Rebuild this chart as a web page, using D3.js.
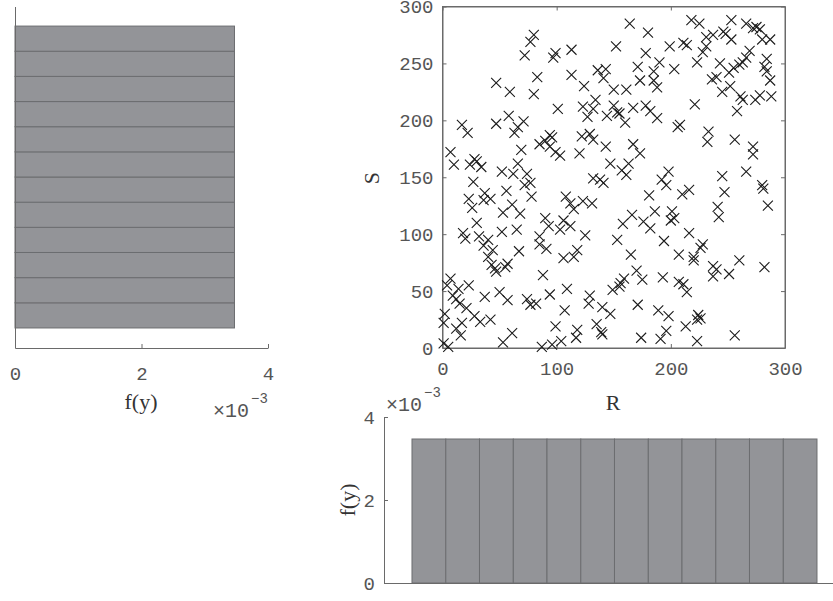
<!DOCTYPE html>
<html>
<head>
<meta charset="utf-8">
<script src="https://cdn.jsdelivr.net/npm/d3@7"></script>
<style>
body { margin: 0; background: #fff; }
svg { display: block; }
</style>
</head>
<body>
<svg id="chart" width="833" height="601"></svg>
<script>
// sample points (R, S)
const rVals = [
  80,77,72,99,97,113,47,59,83,80,113,124,136,101,134,123,132,127,47,58,71,66,63,17,22,7,10,28,30,24,34,69,66,85,90,94,96,94,99,103,120,122,129,132,
  164,180,152,178,199,211,214,218,225,231,237,246,248,253,253,266,272,275,278,280,287,231,228,223,190,171,185,203,143,141,150,161,173,185,188,243,236,240,251,255,260,263,266,269,284,282,284,287,288,245,252,261,263,274,278,258,221,150,153,155,144,167,178,182,188,160,206,208,233,232,256,272,272,143,167,173,147,163,157,198,245,266,
  27,23,26,37,36,42,56,53,61,68,72,77,78,52,62,74,30,18,20,32,40,36,44,40,43,46,47,55,57,52,65,67,90,93,85,85,91,103,106,112,108,112,115,123,131,132,138,141,125,118,115,106,88,153,7,4,14,23,9,12,15,21,37,50,57,28,33,42,2,1,17,12,16,1,5,53,61,74,77,82,94,109,107,99,104,96,87,118,117,129,128,140,147,149,135,139,140,
  161,192,196,181,210,216,247,280,281,285,241,242,166,158,176,182,186,201,200,203,216,194,165,207,220,220,226,228,237,240,237,251,260,282,170,175,193,207,211,214,159,156,155,171,189,198,224,226,223,213,196,191,174,223,256
];
const sVals = [
  275,269,257,259,255,262,233,225,238,223,240,230,244,210,218,212,210,203,197,204,199,194,189,196,189,172,161,166,164,161,159,174,162,179,182,187,185,177,172,169,171,186,188,183,
  285,277,265,259,265,268,266,288,285,273,275,278,276,288,271,285,281,282,280,271,271,265,260,251,251,247,243,245,245,237,227,227,235,235,229,250,236,238,242,246,249,251,255,261,254,247,243,235,221,225,230,221,218,218,222,208,214,213,207,206,204,211,213,208,202,198,194,196,190,181,183,177,170,177,179,171,162,162,156,155,151,155,
  146,131,123,136,130,131,138,119,126,118,143,145,133,155,153,153,110,101,96,98,95,90,86,80,73,70,67,71,74,102,104,85,114,107,98,91,87,104,112,107,133,127,122,129,127,149,148,145,99,86,80,79,64,95,61,55,52,55,46,43,39,35,45,49,42,28,23,25,30,22,22,17,11,4,1,5,13,43,38,39,47,52,33,19,6,3,1,16,9,46,39,36,30,51,21,14,12,
  152,148,143,134,135,139,137,143,140,125,124,115,117,109,111,105,120,120,112,114,101,94,82,82,80,77,88,91,72,69,63,65,77,71,68,60,62,58,56,49,61,57,54,38,33,28,29,26,25,19,15,8,9,6,11
];

// marginal histograms (pdf normalisation)
const sBinEdges = [17.6, 39.7, 61.8, 83.9, 106.0, 128.1, 150.2, 172.3, 194.4, 216.5, 238.6, 260.7, 282.8];
const sDensity = [0.00347, 0.00347, 0.00347, 0.00347, 0.00347, 0.00347, 0.00347, 0.00347, 0.00347, 0.00347, 0.00347, 0.00347];
const rBinEdges = [18.7, 41.3, 63.8, 86.4, 108.9, 131.5, 154.0, 176.6, 199.1, 221.7, 244.2, 266.8, 289.3];
const rDensity = [0.00347, 0.00347, 0.00347, 0.00347, 0.00347, 0.00347, 0.00347, 0.00347, 0.00347, 0.00347, 0.00347, 0.00347];

const densityTicks = [0, 0.002, 0.004];
const rTicks = [0, 100, 200, 300];
const sTicks = [0, 50, 100, 150, 200, 250, 300];

const monoFont = "'Liberation Mono', 'Courier New', monospace";
const serifFont = "'Liberation Serif', 'Times New Roman', serif";
const axisColor = "#6a6a6a";
const textColor = "#555";
const barFill = "#939498";
const barStroke = "#6c6d70";

const svg = d3.select("#chart");

const styleAxis = (g) => {
  g.attr("font-family", monoFont).attr("font-size", 19);
  g.selectAll("path, line").attr("stroke", axisColor);
  g.selectAll("text").attr("fill", textColor);
};

const addLabel = (x, y, rot, txt) => {
  svg.append("text")
    .attr("transform", `translate(${x},${y})` + (rot ? ` rotate(${rot})` : ""))
    .attr("text-anchor", "middle").attr("font-family", serifFont).attr("font-size", 22)
    .attr("fill", "#333").text(txt);
};

const addExponent = (x, y) => {
  let t = svg.append("text").attr("x", x).attr("y", y)
    .attr("font-family", monoFont).attr("font-size", 20).attr("fill", textColor);
  t.append("tspan").text("\u00d710");
  t.append("tspan").attr("dx", 2).attr("dy", -14).attr("font-size", 14).text("\u22123");
};

// ---------- scatter ----------
let xS = d3.scaleLinear().domain([0, 300]).range([442.5, 785]);
let yS = d3.scaleLinear().domain([0, 300]).range([348, 6.5]);

svg.append("rect")
  .attr("x", xS(0)).attr("y", yS(300))
  .attr("width", xS(300) - xS(0)).attr("height", yS(0) - yS(300))
  .attr("fill", "none").attr("stroke", axisColor);

svg.append("g").attr("transform", `translate(0,${yS(0)})`)
  .call(d3.axisBottom(xS).tickValues(rTicks).tickSize(-4).tickSizeOuter(0).tickPadding(14))
  .call(styleAxis);
svg.append("g").attr("transform", `translate(0,${yS(300)})`)
  .call(d3.axisTop(xS).tickValues(rTicks).tickSize(-4).tickSizeOuter(0).tickFormat(""))
  .call(styleAxis);
svg.append("g").attr("transform", `translate(${xS(0)},0)`)
  .call(d3.axisLeft(yS).tickValues(sTicks).tickSize(-4).tickSizeOuter(0).tickPadding(9))
  .call(styleAxis);
svg.append("g").attr("transform", `translate(${xS(300)},0)`)
  .call(d3.axisRight(yS).tickValues(sTicks).tickSize(-4).tickSizeOuter(0).tickFormat(""))
  .call(styleAxis);

let pts = rVals.map((r, i) => ({ r: r, s: sVals[i] }));
svg.append("g").selectAll("path").data(pts).join("path")
  .attr("transform", d => `translate(${xS(d.r)},${yS(d.s)})`)
  .attr("d", "M-5,-5L5,5M-5,5L5,-5")
  .attr("stroke", "#1c1c1c").attr("stroke-width", 1.1).attr("fill", "none");

addLabel(613, 410, 0, "R");
addLabel(379, 178, -90, "S");

// ---------- left histogram (S) ----------
let xL = d3.scaleLinear().domain([0, 0.004]).range([15, 268]);
let yL = d3.scaleLinear().domain([0, 300]).range([348, 6.5]);

let sBins = sDensity.map((d, i) => ({ lo: sBinEdges[i], hi: sBinEdges[i + 1], v: d }));
svg.append("g").selectAll("rect").data(sBins).join("rect")
  .attr("x", xL(0)).attr("y", d => yL(d.hi))
  .attr("width", d => xL(d.v) - xL(0)).attr("height", d => yL(d.lo) - yL(d.hi))
  .attr("fill", barFill).attr("stroke", barStroke).attr("stroke-width", 1);

svg.append("g").attr("transform", `translate(0,${yL(0)})`)
  .call(d3.axisBottom(xL).tickValues(densityTicks).tickSize(-4).tickSizeOuter(0).tickPadding(19)
    .tickFormat(d => d3.format("d")(d * 1000)))
  .call(styleAxis);
svg.append("g").attr("transform", `translate(${xL(0)},0)`)
  .call(d3.axisLeft(yL).tickValues([]).tickSizeOuter(0))
  .call(styleAxis);

addLabel(141, 409, 0, "f(y)");
addExponent(213, 417);

// ---------- bottom histogram (R) ----------
let xB = d3.scaleLinear().domain([0, 300]).range([384, 833]);
let yB = d3.scaleLinear().domain([0, 0.004]).range([583, 417]);

let rBins = rDensity.map((d, i) => ({ lo: rBinEdges[i], hi: rBinEdges[i + 1], v: d }));
svg.append("g").selectAll("rect").data(rBins).join("rect")
  .attr("x", d => xB(d.lo)).attr("y", d => yB(d.v))
  .attr("width", d => xB(d.hi) - xB(d.lo)).attr("height", d => yB(0) - yB(d.v))
  .attr("fill", barFill).attr("stroke", barStroke).attr("stroke-width", 1);

svg.append("g").attr("transform", `translate(0,${yB(0)})`)
  .call(d3.axisBottom(xB).tickValues([]).tickSizeOuter(0))
  .call(styleAxis);
svg.append("g").attr("transform", `translate(${xB(0)},0)`)
  .call(d3.axisLeft(yB).tickValues(densityTicks).tickSize(-4).tickSizeOuter(0).tickPadding(9)
    .tickFormat(d => d3.format("d")(d * 1000)))
  .call(styleAxis);

addLabel(355, 500, -90, "f(y)");
addExponent(386, 411);
</script>
</body>
</html>
